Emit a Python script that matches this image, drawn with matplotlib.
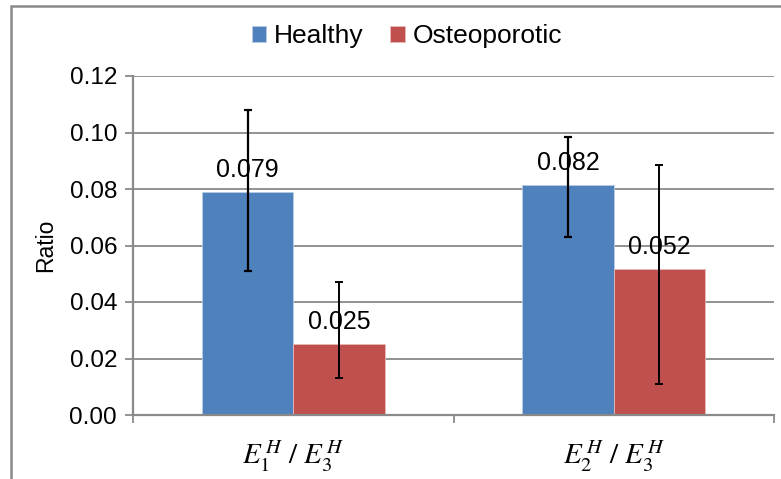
import matplotlib
matplotlib.use('Agg')
import matplotlib.pyplot as plt
from matplotlib.patches import Rectangle
import numpy as np

plt.rcParams['font.family'] = ['Liberation Sans', 'DejaVu Sans']
plt.rcParams['mathtext.fontset'] = 'stix'

categories = [r'$E_1^{\,H}\ /\ E_3^{\,H}$', r'$E_2^{\,H}\ /\ E_3^{\,H}$']
series = ['Healthy', 'Osteoporotic']
healthy = [0.0790, 0.0815]
osteo = [0.0252, 0.0518]
healthy_labels = ['0.079', '0.082']
osteo_labels = ['0.025', '0.052']
# error bar ends (low, high)
healthy_low = [0.0511, 0.0629]
healthy_high = [0.1081, 0.0984]
osteo_low = [0.0132, 0.0109]
osteo_high = [0.0471, 0.0884]
yticks = [0.00, 0.02, 0.04, 0.06, 0.08, 0.10, 0.12]

blue = '#4F81BD'
red = '#C0504D'
grey = '#8A8A8A'

fig = plt.figure(figsize=(7.81, 4.79), dpi=100)
ax = fig.add_axes([133 / 781, 1 - 415 / 479, 641 / 781, 339 / 479])

# outer chart frame (right and bottom edges fall outside the picture)
fig.patches.append(Rectangle((10.5 / 781, -0.1), 1.2, 1 - 6.3 / 479 + 0.1,
                             transform=fig.transFigure, fill=False,
                             edgecolor=grey, linewidth=1.8))

x = np.arange(len(categories))
w = 0.285
hx = x - w / 2
ox = x + w / 2

ax.bar(hx, healthy, w, color=blue, edgecolor='#b8cce4', linewidth=0.6,
       label=series[0], zorder=2)
ax.bar(ox, osteo, w, color=red, edgecolor='#e6b9b8', linewidth=0.6,
       label=series[1], zorder=2)

h_err = [np.array(healthy) - np.array(healthy_low), np.array(healthy_high) - np.array(healthy)]
o_err = [np.array(osteo) - np.array(osteo_low), np.array(osteo_high) - np.array(osteo)]
ax.errorbar(hx, healthy, yerr=h_err, fmt='none', ecolor='black',
            elinewidth=1.6, capsize=3, capthick=1.6, zorder=3)
ax.errorbar(ox, osteo, yerr=o_err, fmt='none', ecolor='black',
            elinewidth=1.4, capsize=3, capthick=1.4, zorder=3)

for xi, v, t in zip(hx, healthy, healthy_labels):
    ax.text(xi, v + 0.0035, t, ha='center', va='bottom', fontsize=18, zorder=4)
for xi, v, t in zip(ox, osteo, osteo_labels):
    ax.text(xi, v + 0.0035, t, ha='center', va='bottom', fontsize=18, zorder=4)

ax.set_xlim(-0.5, 1.5)
ax.set_ylim(0, 0.12)
ax.set_yticks(yticks)
ax.set_yticklabels(['%.2f' % v for v in yticks], fontsize=17.5)
ax.yaxis.grid(True, color=grey, linewidth=1.3, zorder=0)
ax.set_axisbelow(True)

ax.set_xticks([-0.5, 0.5, 1.5])
ax.set_xticklabels([])
ax.set_xticks(x, minor=True)
ax.set_xticklabels(categories, minor=True, fontsize=21)
ax.tick_params(axis='x', which='minor', length=0, pad=17)
ax.tick_params(axis='both', which='major', length=6, width=1.3, color=grey)
ax.tick_params(axis='y', pad=5.5)

for s in ['top', 'right']:
    ax.spines[s].set_visible(False)
for s in ['left', 'bottom']:
    ax.spines[s].set_color(grey)
    ax.spines[s].set_linewidth(1.6)

ax.set_ylabel('Ratio', fontsize=16.5, labelpad=9)

fig.legend(loc='center', bbox_to_anchor=(407 / 781, 1 - 36 / 479), ncol=2,
           frameon=False, fontsize=19, handlelength=0.55, handleheight=0.55,
           handletextpad=0.3, columnspacing=1.0)

fig.savefig('out.png', dpi=100)
